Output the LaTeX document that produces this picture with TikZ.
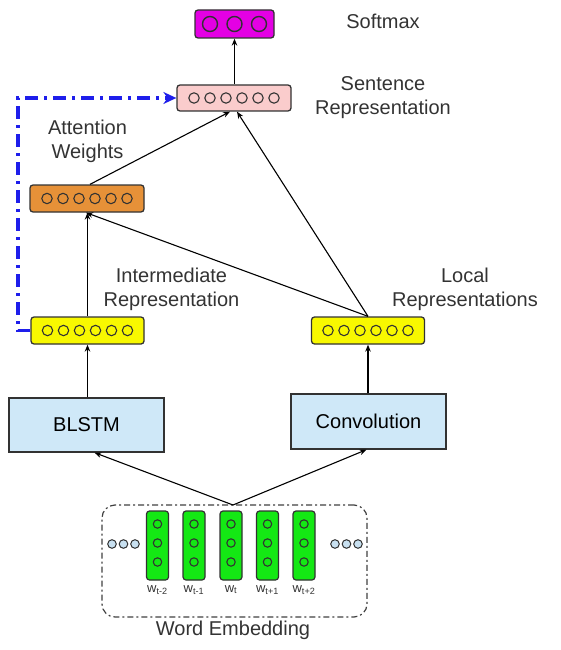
\documentclass[tikz,border=0pt]{standalone}
\usepackage{fontspec}
\setmainfont{Liberation Sans}
\usetikzlibrary{arrows.meta,calc}
\definecolor{cMag}{RGB}{228,0,228}
\definecolor{cPink}{RGB}{250,204,204}
\definecolor{cOrange}{RGB}{230,145,56}
\definecolor{cYellow}{RGB}{248,248,0}
\definecolor{cLBlue}{RGB}{207,232,248}
\definecolor{cGreen}{RGB}{20,232,20}
\definecolor{cDot}{RGB}{200,224,240}
\definecolor{cBlue}{RGB}{30,30,235}
\definecolor{cLine}{RGB}{50,50,50}
\tikzset{
  vec/.style={draw=cLine, line width=1.3pt, rounded corners=3pt, minimum width=113pt, minimum height=27pt, inner sep=0pt},
  blockbox/.style={draw=cLine, line width=1.3pt, fill=cLBlue, inner sep=0pt, font=\fontsize{20}{24}\selectfont},
  colbox/.style={draw=cLine, line width=1.2pt, fill=cGreen, rounded corners=3pt, minimum width=22pt, minimum height=69pt, inner sep=0pt},
  circ/.style={draw=cLine, line width=1.1pt},
  lbl/.style={align=center, text=black!80, font=\fontsize{20}{24}\selectfont},
  sub/.style={text=black!80, font=\fontsize{13}{15}\selectfont, inner sep=0pt},
  arr/.style={draw=black, line width=1.1pt, -{Stealth[length=7pt,width=5.5pt]}},
  bluearr/.style={draw=cBlue, line width=3.3pt, dash pattern=on 13pt off 6pt on 3pt off 6pt, -{Stealth[length=13pt,width=12pt]}},
  embbox/.style={draw=black!75, line width=1.2pt, dash pattern=on 6pt off 3pt on 2pt off 3pt, rounded corners=13pt, minimum width=265pt, minimum height=112pt, inner sep=0pt}
}
\begin{document}
\begin{tikzpicture}[x=1pt,y=-1pt]
\useasboundingbox (0,0) rectangle (561,650);
% vector boxes
\node[vec, fill=cMag, minimum width=79pt, minimum height=28pt] (soft) at (234.5,24) {};
\node[vec, fill=cPink, minimum width=114pt, minimum height=26pt] (sent) at (234,98) {};
\node[vec, fill=cOrange, minimum width=114pt] (att) at (87,198.5) {};
\node[vec, fill=cYellow] (inter) at (87.5,330.5) {};
\node[vec, fill=cYellow] (local) at (368,330.5) {};
\foreach \i in {0,1,2} \draw[circ, line width=1.4pt] ([xshift={(\i-1)*24.5pt}]soft.center) circle (7.5pt);
\foreach \n in {sent,att,inter,local}
  \foreach \i in {0,...,5} \draw[circ] ([xshift={(\i-2.5)*16pt}]\n.center) circle (5.2pt);
% blocks
\node[blockbox, minimum width=155pt, minimum height=54pt] (blstm) at (86.5,425) {BLSTM};
\node[blockbox, minimum width=155pt, minimum height=55pt] (conv) at (368.5,421.5) {Convolution};
% labels
\node[lbl] (softlbl) at (383,21) {Softmax};
\node[lbl] (sentlbl) at (383,98) {Sentence\\Representation};
\node[lbl] (attlbl) at (87.5,141) {Attention\\Weights};
\node[lbl] (interlbl) at (171.5,289) {Intermediate\\Representation};
\node[lbl] (locallbl) at (465,289) {Local\\Representations};
% word embedding
\node[embbox] (emb) at (234.5,561) {};
\coordinate (apex) at (233,505);
\foreach \k/\x/\s in {1/157.5/{t-2},2/194/{t-1},3/231/{t},4/267.5/{t+1},5/304/{t+2}}{
  \node[colbox] (col\k) at (\x,545.5) {};
  \foreach \y in {524,543,562} \draw[circ] (\x,\y) circle (4.2pt);
  \node[sub, anchor=base] (w\k) at (\x,592) {w\textsubscript{\s}};
}
\foreach \x in {112,123.5,135,335,346.5,358} \draw[circ, fill=cDot, line width=1pt] (\x,544) circle (4.3pt);
\node[lbl] (emblbl) at (233,630) {Word Embedding};
% connectors
\draw[arr] (apex) -- ([xshift=8pt]blstm.south);
\draw[arr] (apex) -- ([xshift=-2pt]conv.south);
\draw[arr] (blstm.north -| inter.south) -- (inter.south);
\draw[arr] (conv.north -| local.south) -- (local.south);
\draw[arr] (inter.north) -- (inter.north |- att.south);
\draw[arr] (local.north) -- ([xshift=-1pt]att.south);
\draw[arr] (local.north) -- ([xshift=3pt]sent.south);
\draw[arr] ([xshift=3pt]att.north) -- ([xshift=-4pt]sent.south);
\draw[arr] (sent.north -| soft.south) -- (soft.south);
\draw[bluearr] (inter.west) -- (18,330.5) -- (18,98) -- (sent.west);
\end{tikzpicture}
\end{document}
